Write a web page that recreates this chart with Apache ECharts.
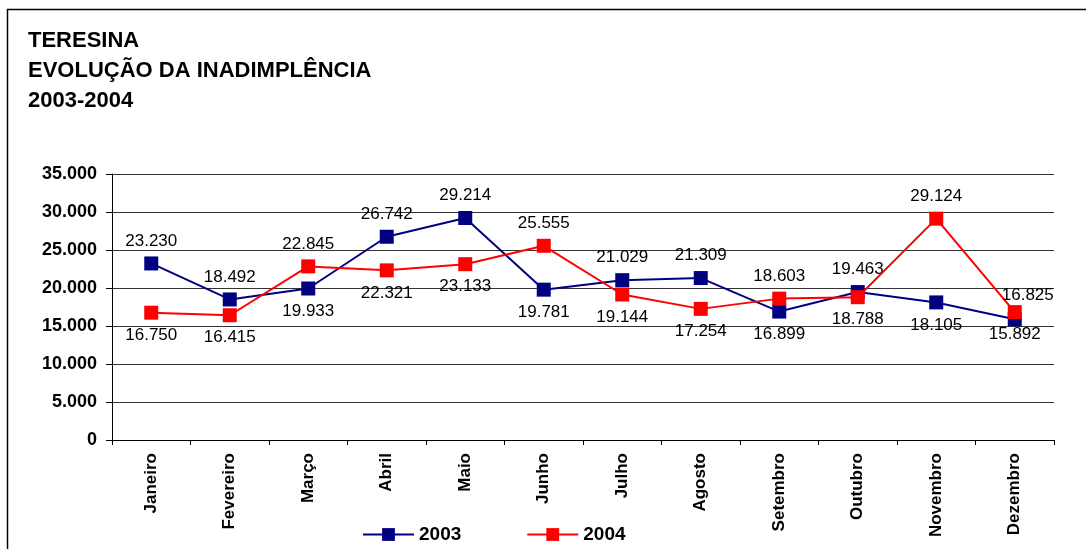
<!DOCTYPE html>
<html>
<head>
<meta charset="utf-8">
<script src="https://cdn.jsdelivr.net/npm/echarts@6/dist/echarts.min.js"></script>
<style>
html,body{margin:0;padding:0;background:#fff;}
#c{width:1086px;height:549px;}
</style>
</head>
<body>
<div id="c"></div>
<script>
const months = ['Janeiro','Fevereiro','Março','Abril','Maio','Junho','Julho','Agosto','Setembro','Outubro','Novembro','Dezembro'];
const values2003 = [23230, 18492, 19933, 26742, 29214, 19781, 21029, 21309, 16899, 19463, 18105, 15892];
const values2004 = [16750, 16415, 22845, 22321, 23133, 25555, 19144, 17254, 18603, 18788, 29124, 16825];
const yTicks = [0, 5000, 10000, 15000, 20000, 25000, 30000, 35000];

// label placement per point (style only)
const pos2003 = ['top','top','bottom','top','top','bottom','top','top','bottom','top','bottom','bottom'];
const pos2004 = ['bottom','bottom','top','bottom','bottom','top','bottom','bottom','top','bottom','top','top'];
const offsetLast2003 = [0, -7];
const offsetLast2004 = [13, 6];

function fmt(v){
  return String(v).replace(/\B(?=(\d{3})+(?!\d))/g, '.');
}
const FONT = '"Liberation Sans", Arial, sans-serif';

function mkData(vals, pos, lastOffset){
  return vals.map((v,i)=>{
    const o = {value:v, label:{position:pos[i]}};
    if (i === vals.length-1) o.label.offset = lastOffset;
    return o;
  });
}

const chart = echarts.init(document.getElementById('c'));
chart.setOption({
  animation:false,
  backgroundColor:'#fff',
  textStyle:{fontFamily:FONT},
  title:{
    text:'TERESINA\nEVOLUÇÃO DA INADIMPLÊNCIA\n2003-2004',
    left:23, top:21,
    textStyle:{fontFamily:FONT, fontSize:22, fontWeight:'bold', color:'#000', lineHeight:30}
  },
  graphic:[
    {type:'polyline', shape:{points:[[7.5,549],[7.5,9.5],[1086,9.5]]}, style:{stroke:'#000', lineWidth:1.5, fill:null}}
  ],
  grid:{left:112, right:32, top:174, bottom:109},
  legend:{
    top:520, left:357,
    itemWidth:51, itemHeight:16, itemGap:65,
    data:['2003','2004'],
    textStyle:{fontFamily:FONT, fontSize:19, fontWeight:'bold', color:'#000'}
  },
  xAxis:{
    type:'category', data:months, boundaryGap:true,
    axisLine:{lineStyle:{color:'#000', width:1}},
    axisTick:{show:true, length:5, lineStyle:{color:'#000'}},
    axisLabel:{rotate:90, margin:13, fontFamily:FONT, fontSize:17, fontWeight:'bold', color:'#000'}
  },
  yAxis:{
    type:'value', min:yTicks[0], max:yTicks[yTicks.length-1], interval:5000,
    axisLine:{show:true, lineStyle:{color:'#000', width:1}},
    axisTick:{show:true, length:6, lineStyle:{color:'#000'}},
    splitLine:{lineStyle:{color:'#333', width:1}},
    axisLabel:{formatter:fmt, margin:15, fontFamily:FONT, fontSize:18, fontWeight:'bold', color:'#000'}
  },
  series:[
    {
      name:'2003', type:'line', data:mkData(values2003,pos2003,offsetLast2003),
      symbol:'rect', symbolSize:14,
      itemStyle:{color:'#000080'}, lineStyle:{color:'#000080', width:2},
      label:{show:true, formatter:p=>fmt(p.value), distance:7, fontFamily:FONT, fontSize:17, color:'#000'},
      z:2
    },
    {
      name:'2004', type:'line', data:mkData(values2004,pos2004,offsetLast2004),
      symbol:'rect', symbolSize:14,
      itemStyle:{color:'#ff0000'}, lineStyle:{color:'#ff0000', width:2},
      label:{show:true, formatter:p=>fmt(p.value), distance:7, fontFamily:FONT, fontSize:17, color:'#000'},
      z:3
    }
  ]
});
</script>
</body>
</html>
